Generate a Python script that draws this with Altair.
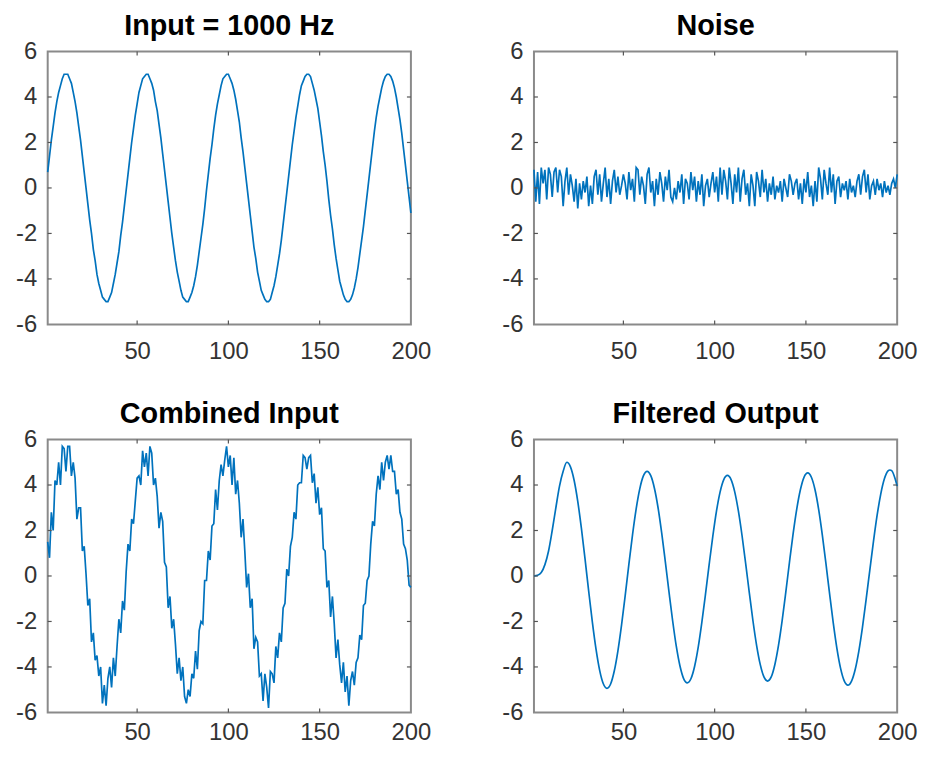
import altair as alt
import pandas as pd

# ---------------- data ----------------
sample_index = list(range(1, 201))

input_signal = [
    0.7, 1.4, 2.1, 2.7, 3.3, 3.8, 4.2, 4.5, 4.8, 5.0,
    5.0, 5.0, 4.8, 4.6, 4.2, 3.8, 3.3, 2.7, 2.1, 1.4,
    0.7, 0.0, -0.7, -1.4, -2.0, -2.7, -3.2, -3.8, -4.2, -4.5,
    -4.8, -4.9, -5.0, -5.0, -4.8, -4.6, -4.2, -3.8, -3.3, -2.8,
    -2.1, -1.5, -0.8, -0.1, 0.6, 1.3, 2.0, 2.6, 3.2, 3.7,
    4.2, 4.5, 4.8, 4.9, 5.0, 5.0, 4.8, 4.6, 4.3, 3.8,
    3.4, 2.8, 2.2, 1.5, 0.8, 0.1, -0.6, -1.3, -2.0, -2.6,
    -3.2, -3.7, -4.1, -4.5, -4.8, -4.9, -5.0, -5.0, -4.8, -4.6,
    -4.3, -3.9, -3.4, -2.8, -2.2, -1.6, -0.9, -0.1, 0.6, 1.3,
    1.9, 2.6, 3.2, 3.7, 4.1, 4.5, 4.8, 4.9, 5.0, 5.0,
    4.8, 4.6, 4.3, 3.9, 3.4, 2.9, 2.2, 1.6, 0.9, 0.2,
    -0.5, -1.2, -1.9, -2.6, -3.1, -3.7, -4.1, -4.5, -4.7, -4.9,
    -5.0, -5.0, -4.9, -4.6, -4.3, -3.9, -3.4, -2.9, -2.3, -1.6,
    -0.9, -0.2, 0.5, 1.2, 1.9, 2.5, 3.1, 3.6, 4.1, 4.5,
    4.7, 4.9, 5.0, 5.0, 4.9, 4.6, 4.3, 3.9, 3.5, 2.9,
    2.3, 1.6, 1.0, 0.3, -0.5, -1.2, -1.8, -2.5, -3.1, -3.6,
    -4.1, -4.4, -4.7, -4.9, -5.0, -5.0, -4.9, -4.7, -4.4, -4.0,
    -3.5, -2.9, -2.3, -1.7, -1.0, -0.3, 0.4, 1.1, 1.8, 2.5,
    3.1, 3.6, 4.0, 4.4, 4.7, 4.9, 5.0, 5.0, 4.9, 4.7,
    4.4, 4.0, 3.5, 3.0, 2.4, 1.7, 1.0, 0.3, -0.4, -1.1,
]

noise = [
    0.8, -0.6, 0.7, -0.7, 0.9, 0.2, 0.8, -0.5, 0.9, 0.6,
    -0.4, 0.7, 0.9, -0.2, 0.8, 0.5, -0.8, 0.3, 0.9, -0.3,
    0.6, 0.1, -0.6, 0.4, -0.9, 0.2, -0.5, 0.3, -0.2, 0.5,
    -0.8, 0.1, -0.7, 0.5, 0.8, -0.3, 0.6, -0.6, 0.2, 0.9,
    -0.4, 0.4, -0.7, 0.3, 0.8, -0.2, 0.5, -0.3, 0.1, 0.6,
    0.2, -0.5, 0.7, -0.1, 0.4, -0.6, 0.9, 0.8, -0.3, 0.5,
    0.1, -0.7, 0.6, 0.9, -0.2, 0.3, -0.8, 0.4, -0.3, 0.7,
    0.2, -0.6, 0.5, -0.1, 0.8, -0.4, -0.6, 0.0, -0.5, 0.3,
    -0.2, 0.6, -0.7, 0.4, 0.2, -0.5, 0.7, -0.1, 0.5, -0.6,
    0.3, -0.3, 0.6, -0.8, 0.1, 0.4, -0.4, 0.2, 0.7, -0.2,
    0.5, -0.6, 0.9, -0.3, 0.8, 0.3, -0.5, 0.9, 0.2, -0.7,
    0.6, -0.2, 0.9, -0.6, 0.4, 0.8, -0.3, 0.2, -0.8, 0.6,
    0.1, -0.8, 0.7, 0.3, -0.4, 0.8, -0.2, 0.4, -0.6, 0.2,
    -0.3, 0.5, -0.5, 0.1, -0.2, 0.3, -0.6, 0.4, 0.0, -0.4,
    0.6, 0.3, -0.3, 0.2, 0.4, -0.5, 0.2, -0.7, 0.4, -0.2,
    0.7, -0.4, 0.1, -0.8, 0.3, -0.6, 0.9, 0.4, -0.5, 0.8,
    0.2, -0.3, 0.9, -0.2, 0.6, -0.7, 0.3, 0.5, -0.4, 0.2,
    -0.1, 0.3, -0.5, 0.4, -0.2, 0.1, -0.4, 0.3, 0.6, -0.3,
    0.5, 0.8, -0.2, 0.6, -0.5, 0.1, 0.3, -0.3, 0.4, -0.1,
    0.2, -0.4, 0.3, -0.2, 0.1, -0.3, 0.2, 0.4, 0.0, 0.6,
]

combined_input = [
    1.5, 0.8, 2.8, 2.0, 4.2, 4.0, 5.0, 4.0, 5.7, 5.6,
    4.6, 5.7, 5.7, 4.4, 5.0, 4.3, 2.5, 3.0, 3.0, 1.1,
    1.3, 0.1, -1.3, -1.0, -2.9, -2.5, -3.7, -3.5, -4.4, -4.0,
    -5.6, -4.8, -5.7, -4.5, -4.0, -4.9, -3.6, -4.4, -3.1, -1.9,
    -2.5, -1.1, -1.5, 0.2, 1.4, 1.1, 2.5, 2.3, 3.3, 4.3,
    4.4, 4.0, 5.5, 4.8, 5.4, 4.4, 5.7, 5.4, 4.0, 4.3,
    3.5, 2.1, 2.8, 2.4, 0.6, 0.4, -1.4, -0.9, -2.3, -1.9,
    -3.0, -4.3, -3.6, -4.6, -4.0, -5.3, -5.6, -5.0, -5.3, -4.3,
    -4.5, -3.3, -4.1, -2.4, -2.0, -2.1, -0.2, -0.2, 1.1, 0.7,
    2.2, 2.3, 3.8, 2.9, 4.2, 4.9, 4.4, 5.1, 5.7, 4.8,
    5.3, 4.0, 5.2, 3.6, 4.2, 3.2, 1.7, 2.5, 1.1, -0.5,
    0.1, -1.4, -1.0, -3.2, -2.7, -2.9, -4.4, -4.3, -5.5, -4.3,
    -4.9, -5.8, -4.2, -4.3, -4.7, -3.1, -3.6, -2.5, -2.9, -1.4,
    -1.2, 0.3, 0.0, 1.3, 1.7, 2.8, 2.5, 4.0, 4.1, 4.1,
    5.3, 5.2, 4.7, 5.2, 5.3, 4.1, 4.5, 3.2, 3.9, 2.7,
    3.0, 1.2, 1.1, -0.5, -0.2, -1.8, -0.9, -2.1, -3.6, -2.8,
    -3.9, -4.7, -3.8, -5.1, -4.4, -5.7, -4.6, -4.2, -4.8, -3.8,
    -3.6, -2.6, -2.8, -1.3, -1.2, -0.2, 0.0, 1.4, 2.4, 2.2,
    3.6, 4.4, 3.8, 5.0, 4.2, 5.0, 5.3, 4.7, 5.3, 4.6,
    4.6, 3.6, 3.8, 2.8, 2.5, 1.4, 1.2, 0.7, -0.4, -0.5,
]

filtered_x = list(range(1, 196, 2)) + [196, 197, 199, 200]
filtered_output = [
    0.0, 0.03, 0.15, 0.5, 1.1, 2.0, 3.0, 3.95, 4.6, 5.0,
    4.80, 4.21, 3.28, 2.09, 0.74, -0.68, -2.03, -3.22, -4.15, -4.74, -4.94,
    -4.75, -4.18, -3.29, -2.15, -0.85, 0.51, 1.81, 2.95, 3.84, 4.41, 4.60,
    4.41, 3.86, 3.00, 1.88, 0.61, -0.71, -1.98, -3.10, -3.96, -4.51, -4.70,
    -4.52, -3.98, -3.13, -2.03, -0.79, 0.51, 1.75, 2.85, 3.70, 4.24, 4.42,
    4.24, 3.70, 2.86, 1.78, 0.54, -0.74, -1.98, -3.06, -3.90, -4.44, -4.62,
    -4.44, -3.89, -3.04, -1.95, -0.70, 0.61, 1.86, 2.95, 3.80, 4.35, 4.53,
    4.34, 3.79, 2.92, 1.80, 0.53, -0.80, -2.07, -3.19, -4.06, -4.61, -4.80,
    -4.62, -4.11, -3.30, -2.25, -1.03, 0.25, 1.51, 2.66, 3.60, 4.27, 4.62,
    4.66, 4.63, 4.24, 3.95,
]

panel_titles = ["Input = 1000 Hz", "Noise", "Combined Input", "Filtered Output"]
x_tick_values = [50, 100, 150, 200]
y_tick_values = [-6, -4, -2, 0, 2, 4, 6]
x_inner_ticks = [50, 100, 150]
y_inner_ticks = [-4, -2, 0, 2, 4]

# ---------------- styling ----------------
W, H = 366, 275
LINE_COLOR = "#0072BD"
FRAME = "#8a8a8a"
TICK = "#555555"
LABEL = "#333333"
FONT = "Liberation Sans"
LABEL_SIZE = 24
TL = 4  # inner tick length
HYPHEN_LABEL = "datum.value < 0 ? '-' + abs(datum.value) : '' + datum.value"


def panel(xs, ys, title, interp="linear", xpad=15):
    df = pd.DataFrame({"x": xs, "y": ys})
    xscale = alt.Scale(domain=[1, 200], nice=False, zero=False)
    yscale = alt.Scale(domain=[-6, 6], nice=False, zero=False)
    xenc = alt.X("x:Q", scale=xscale,
                 axis=alt.Axis(values=x_tick_values, title=None, grid=False, domain=False,
                               ticks=False, labelPadding=xpad, labelFontSize=LABEL_SIZE,
                               labelColor=LABEL, labelFont=FONT, labelFlush=False))
    yenc = alt.Y("y:Q", scale=yscale,
                 axis=alt.Axis(values=y_tick_values, title=None, grid=False, domain=False,
                               ticks=False, labelPadding=11, labelFontSize=LABEL_SIZE,
                               labelColor=LABEL, labelFont=FONT, labelFlush=False,
                               labelExpr=HYPHEN_LABEL))
    line = alt.Chart(df).mark_line(color=LINE_COLOR, strokeWidth=1.7,
                                   interpolate=interp).encode(x=xenc, y=yenc)

    xt = pd.DataFrame({"x": x_inner_ticks})
    yt = pd.DataFrame({"y": y_inner_ticks})
    top_t = alt.Chart(xt).mark_rule(color=TICK, strokeWidth=1.2).encode(
        x=xenc, y=alt.value(0), y2=alt.value(TL))
    bot_t = alt.Chart(xt).mark_rule(color=TICK, strokeWidth=1.2).encode(
        x=xenc, y=alt.value(H), y2=alt.value(H - TL))
    left_t = alt.Chart(yt).mark_rule(color=TICK, strokeWidth=1.2).encode(
        y=yenc, x=alt.value(0), x2=alt.value(TL))
    right_t = alt.Chart(yt).mark_rule(color=TICK, strokeWidth=1.2).encode(
        y=yenc, x=alt.value(W), x2=alt.value(W - TL))

    return alt.layer(line, top_t, bot_t, left_t, right_t).properties(
        width=W, height=H,
        title=alt.TitleParams(title, fontSize=29, fontWeight="bold", font=FONT,
                              color="#000000", anchor="middle", offset=-1),
    )


p1 = panel(sample_index, input_signal, panel_titles[0], xpad=15)
p2 = panel(sample_index, noise, panel_titles[1], xpad=15)
p3 = panel(sample_index, combined_input, panel_titles[2], xpad=8)
p4 = panel(filtered_x, filtered_output, panel_titles[3], interp="monotone", xpad=8)

chart = alt.vconcat(
    alt.hconcat(p1, p2, spacing=68),
    alt.hconcat(p3, p4, spacing=68),
    spacing=35,
).properties(
    padding={"left": 6, "top": 0, "right": 0, "bottom": 0},
    background="white",
).configure_view(
    stroke=FRAME, strokeWidth=2
)

chart.save("out.html", embed_options={"renderer": "svg", "actions": False})
